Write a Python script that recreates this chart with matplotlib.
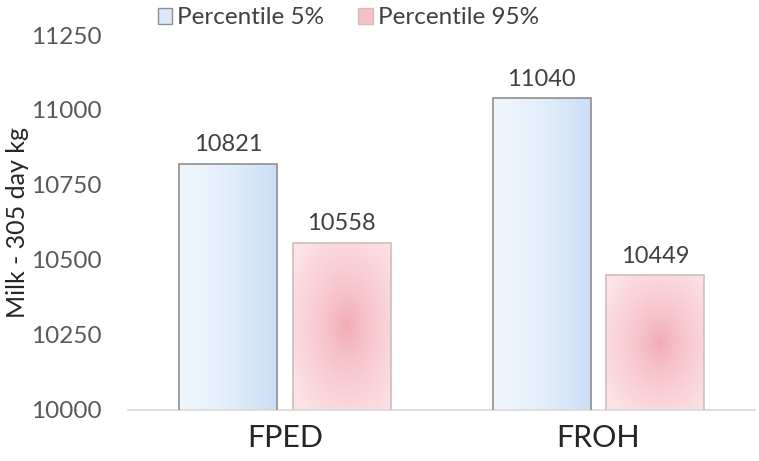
import matplotlib.pyplot as plt
import numpy as np
from matplotlib.colors import to_rgb
from matplotlib.patches import Rectangle

plt.rcParams['font.family']=['Lato','DejaVu Sans']

categories=['FPED','FROH']
series=['Percentile 5%','Percentile 95%']
p5=[10821,11040]
p95=[10558,10449]
yticks=[10000,10250,10500,10750,11000,11250]

fig=plt.figure(figsize=(7.59,4.61),dpi=100)
ax=fig.add_axes([0.169,0.111,0.826,0.813])

x=np.arange(len(categories))
w=0.3125
off=0.181
bars1=ax.bar(x-off,p5,w,color='none',edgecolor='#8f8f8f',lw=1.2,zorder=3)
bars2=ax.bar(x+off,p95,w,color='none',edgecolor='#d2bcbe',lw=1.2,zorder=3)

def lin_grad(c1,c2,n=100):
    t=np.linspace(0,1,n)**1.5
    a=np.array(to_rgb(c1)); b=np.array(to_rgb(c2))
    row=a[None,:]*(1-t[:,None])+b[None,:]*t[:,None]
    return np.tile(row[None,:,:],(n,1,1))

def rad_grad(c_in,c_out,cx=0.55,cy=0.5,n=100):
    xx,yy=np.meshgrid(np.linspace(0,1,n),np.linspace(0,1,n))
    d=np.sqrt((xx-cx)**2+(yy-cy)**2)/0.7
    d=np.clip(d,0,1)**0.7
    a=np.array(to_rgb(c_in)); b=np.array(to_rgb(c_out))
    return a[None,None,:]*(1-d[:,:,None])+b[None,None,:]*d[:,:,None]

blue_img=lin_grad('#eff6fd','#c9def6')
pink_img=rad_grad('#f2a8b2','#fce5e8')

for bar in bars1:
    x0=bar.get_x(); y1=bar.get_height()
    im=ax.imshow(blue_img,extent=[x0,x0+bar.get_width(),10000,y1],aspect='auto',zorder=2,origin='upper')
    im.set_clip_path(bar)
for bar in bars2:
    x0=bar.get_x(); y1=bar.get_height()
    im=ax.imshow(pink_img,extent=[x0,x0+bar.get_width(),10000,y1],aspect='auto',zorder=2,origin='lower')
    im.set_clip_path(bar)
ax.set_xlim(-0.5,1.5)
ax.set_ylim(10000,11250)

for bars,vals in [(bars1,p5),(bars2,p95)]:
    for bar,v in zip(bars,vals):
        ax.text(bar.get_x()+bar.get_width()/2,v+28,str(v),ha='center',va='bottom',fontsize=17,color='#404040')

for s in ['top','right','left']:
    ax.spines[s].set_visible(False)
ax.spines['bottom'].set_color('#d9d9d9')
ax.spines['bottom'].set_linewidth(1.2)
ax.set_xticks(x)
ax.set_xticklabels(categories,fontsize=22,color='#262626')
ax.set_yticks(yticks)
ax.set_yticklabels([str(t) for t in yticks],fontsize=17.5,color='#595959')
ax.tick_params(axis='both',length=0)
ax.tick_params(axis='y',pad=19.5)
ax.tick_params(axis='x',pad=10)
ax.set_ylabel('Milk - 305 day kg',fontsize=18,color='#262626',labelpad=1)

# legend
h1=Rectangle((0,0),1,1,facecolor='#dbe9f8',edgecolor='#8f8f8f',lw=1)
h2=Rectangle((0,0),1,1,facecolor='#f6c0c7',edgecolor='#d2bcbe',lw=1)
leg=fig.legend([h1,h2],series,loc='center',bbox_to_anchor=(0.459,0.961),ncol=2,frameon=False,
               fontsize=17.5,handlelength=0.6,handleheight=0.6,handletextpad=0.2,columnspacing=1.4)
for t in leg.get_texts():
    t.set_color('#404040')

fig.savefig('out.png',dpi=100)
